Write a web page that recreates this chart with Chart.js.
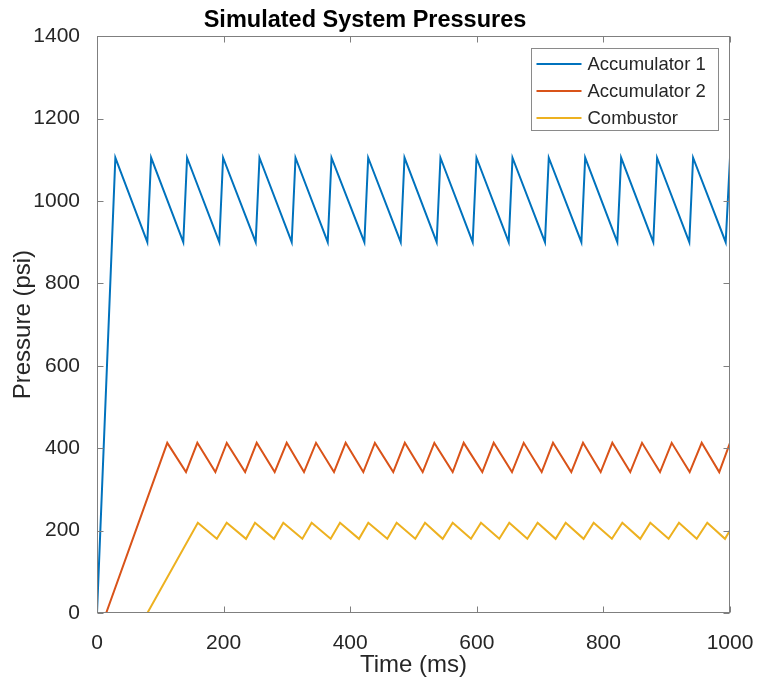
<!DOCTYPE html>
<html>
<head>
<meta charset="utf-8">
<style>
  body { margin: 0; background: #fff; }
  canvas { display: block; }
</style>
</head>
<body>
<canvas id="pressureChart" width="757" height="682"></canvas>

<script src="https://cdn.jsdelivr.net/npm/chart.js@4.4.1/dist/chart.umd.min.js"></script>
<script>
// values (time in ms, pressure in psi)
var acc1Time = [0, 29, 79.5, 85.5, 136.3, 142.3, 193.2, 199.2, 250.7, 256.7, 307.6, 313.6, 364.5, 370.5,
    422.4, 428.4, 479.8, 485.8, 536.6, 542.6, 593.5, 599.5, 650.4, 656.4, 707.7, 713.7, 765.2, 771.2,
    822, 828, 878.8, 884.8, 935.7, 941.7, 993.2, 1000];
var acc1Psi = [0, 1105, 900, 1105, 900, 1105, 900, 1105, 900, 1105, 900, 1105, 900, 1105,
    900, 1105, 900, 1105, 900, 1105, 900, 1105, 900, 1105, 900, 1105, 900, 1105,
    900, 1105, 900, 1105, 900, 1105, 900, 1105];

var acc2Time = [14.5, 111, 140.6, 158.5, 187, 205, 234, 252.3, 280.7, 299.7, 327, 346, 374.4, 392.8,
    420.7, 439, 468, 486.3, 514.5, 532.9, 561.9, 579.3, 608.7, 626.7, 655.6, 674.1, 702.5, 720.4,
    749.3, 767.8, 795.7, 814.1, 842.4, 861, 889.4, 907.9, 936.3, 955.3, 983, 1000];
var acc2Psi = [0, 413, 342, 413, 342, 413, 342, 413, 342, 413, 342, 413, 342, 413,
    342, 413, 342, 413, 342, 413, 342, 413, 342, 413, 342, 413, 342, 413,
    342, 413, 342, 413, 342, 413, 342, 413, 342, 413, 342, 413];

var combTime = [79.6, 159.3, 189.3, 204.9, 235.4, 249.6, 279.6, 294.3, 324.4, 339.1, 369.1, 383.9,
    413.9, 428.6, 458.6, 473.4, 502.8, 518.2, 546.1, 561.9, 590.8, 606.6, 635.5, 651.3, 679.8, 696.1,
    724.5, 740.4, 768.7, 784.6, 813.4, 829.9, 858.2, 874.1, 903, 919.4, 947.4, 964.1, 992.1, 1000];
var combPsi = [0, 219, 180, 219, 180, 219, 180, 219, 180, 219, 180, 219,
    180, 219, 180, 219, 180, 219, 180, 219, 180, 219, 180, 219, 180, 219,
    180, 219, 180, 219, 180, 219, 180, 219, 180, 219, 180, 219, 180, 201];

var seriesNames = ['Accumulator 1', 'Accumulator 2', 'Combustor'];
var seriesColors = ['#0072BD', '#D95319', '#EDB120'];
var xTicks = [0, 200, 400, 600, 800, 1000];
var yTicks = [0, 200, 400, 600, 800, 1000, 1200, 1400];

var axisColor = '#7f7f7f';
var textColor = '#262626';
var fontFamily = '"Liberation Sans", Arial, sans-serif';

function toPoints(times, values) {
    return times.map(function(t, i) { return {x: t, y: values[i]}; });
}

// MATLAB-style box with inward ticks plus the legend in the upper right
var matlabAxes = {
    id: 'matlabAxes',
    afterDraw: function(chart) {
        var ctx = chart.ctx;
        var a = chart.chartArea;
        var L = Math.round(a.left) + 0.5, R = Math.round(a.right) - 0.5;
        var T = Math.round(a.top) + 0.5, B = Math.round(a.bottom) - 0.5;
        var tick = 6;
        ctx.save();
        ctx.strokeStyle = axisColor;
        ctx.lineWidth = 1;
        ctx.strokeRect(L, T, R - L, B - T);
        ctx.beginPath();
        xTicks.forEach(function(v) {
            var px = Math.round(chart.scales.x.getPixelForValue(v)) + 0.5;
            ctx.moveTo(px, B); ctx.lineTo(px, B - tick);
            ctx.moveTo(px, T); ctx.lineTo(px, T + tick);
        });
        yTicks.forEach(function(v) {
            var py = Math.round(chart.scales.y.getPixelForValue(v)) + 0.5;
            ctx.moveTo(L, py); ctx.lineTo(L + tick, py);
            ctx.moveTo(R, py); ctx.lineTo(R - tick, py);
        });
        ctx.stroke();

        // legend
        var bx = 531.5, by = 48.5, bw = 187, bh = 82;
        ctx.fillStyle = '#fff';
        ctx.fillRect(bx, by, bw, bh);
        ctx.strokeStyle = '#8a8a8a';
        ctx.strokeRect(bx, by, bw, bh);
        ctx.font = '18.5px ' + fontFamily;
        ctx.textBaseline = 'middle';
        ctx.textAlign = 'left';
        chart.data.datasets.forEach(function(ds, i) {
            var yy = by + 15.5 + i * 27;
            ctx.strokeStyle = ds.borderColor;
            ctx.lineWidth = 2;
            ctx.beginPath();
            ctx.moveTo(bx + 5, yy);
            ctx.lineTo(bx + 50, yy);
            ctx.stroke();
            ctx.fillStyle = textColor;
            ctx.fillText(ds.label, bx + 56, yy + 1);
        });
        ctx.restore();
    }
};

var ctx = document.getElementById('pressureChart').getContext('2d');
var chart = new Chart(ctx, {
    type: 'line',
    data: {
        datasets: [
            {label: seriesNames[0], data: toPoints(acc1Time, acc1Psi), borderColor: seriesColors[0]},
            {label: seriesNames[1], data: toPoints(acc2Time, acc2Psi), borderColor: seriesColors[1]},
            {label: seriesNames[2], data: toPoints(combTime, combPsi), borderColor: seriesColors[2]}
        ]
    },
    options: {
        responsive: false,
        animation: false,
        layout: {padding: {right: 27, left: 0, bottom: 0, top: 0}},
        elements: {
            line: {borderWidth: 2, tension: 0, fill: false},
            point: {radius: 0}
        },
        plugins: {
            legend: {display: false},
            tooltip: {enabled: false},
            title: {
                display: true,
                text: 'Simulated System Pressures',
                color: '#000',
                font: {family: fontFamily, size: 23.5, weight: 'bold'},
                padding: {top: 6, bottom: 2}
            }
        },
        scales: {
            x: {
                type: 'linear',
                min: 0,
                max: 1000,
                grid: {display: false},
                border: {display: false},
                afterBuildTicks: function(scale) {
                    scale.ticks = xTicks.map(function(v) { return {value: v}; });
                },
                afterFit: function(scale) {
                    scale.height = 69;
                    scale.paddingLeft = 0;
                    scale.paddingRight = 0;
                },
                ticks: {
                    color: textColor,
                    padding: 10,
                    maxRotation: 0,
                    font: {family: fontFamily, size: 21},
                    callback: function(v) { return String(v); }
                },
                title: {
                    display: true,
                    text: 'Time (ms)',
                    color: textColor,
                    font: {family: fontFamily, size: 24},
                    padding: {top: 0, bottom: 2}
                }
            },
            y: {
                min: 0,
                max: 1400,
                grid: {display: false},
                border: {display: false},
                afterBuildTicks: function(scale) {
                    scale.ticks = yTicks.map(function(v) { return {value: v}; });
                },
                afterFit: function(scale) {
                    scale.width = 97;
                    scale.paddingTop = 0;
                    scale.paddingBottom = 0;
                },
                ticks: {
                    color: textColor,
                    padding: 9,
                    font: {family: fontFamily, size: 21},
                    callback: function(v) { return String(v); }
                },
                title: {
                    display: true,
                    text: 'Pressure (psi)',
                    color: textColor,
                    font: {family: fontFamily, size: 24},
                    padding: {top: 9, bottom: 0}
                }
            }
        }
    },
    plugins: [matlabAxes]
});
</script>
</body>
</html>
